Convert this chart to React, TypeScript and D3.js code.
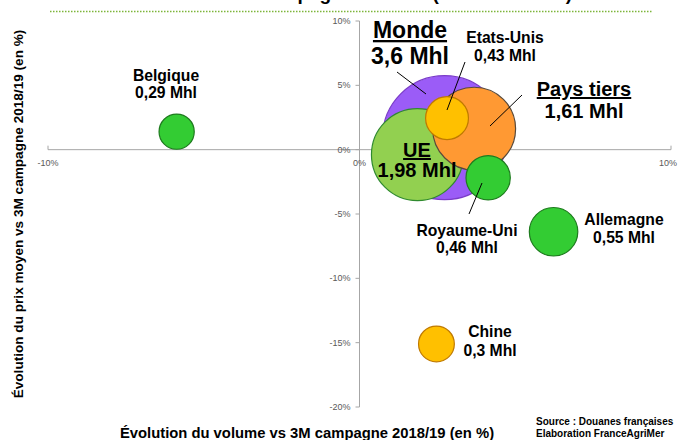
import React from "react";
import * as d3 from "d3";

// ---- Data ----
const markets = ["Monde", "UE", "Pays tiers", "Etats-Unis", "Royaume-Uni", "Allemagne", "Belgique", "Chine"];
const volumeLabels = ["3,6 Mhl", "1,98 Mhl", "1,61 Mhl", "0,43 Mhl", "0,46 Mhl", "0,55 Mhl", "0,29 Mhl", "0,3 Mhl"];
const volumes = [3.6, 1.98, 1.61, 0.43, 0.46, 0.55, 0.29, 0.3]; // Mhl
const volumeChange = [2.73, 1.86, 3.68, 2.81, 4.13, 6.23, -5.87, 2.47]; // %
const priceChange = [0.93, -0.39, 1.63, 2.45, -2.18, -6.38, 1.4, -15.1]; // %
const xTicks = [-10, 0, 10];
const yTicks = [10, 5, 0, -5, -10, -15, -20];

// ---- Styles / layout ----
const W = 679, H = 440;
const fills = ["#9B5CF7", "#92D050", "#FF9933", "#FFC000", "#33CC33", "#33CC33", "#33CC33", "#FFC000"];
const strokes = ["#7A3CC8", "#2F8A2F", "#5A4A3A", "#C07A00", "#1E7B1E", "#1E7B1E", "#1E7B1E", "#C07A00"];
// label layout: [cx, baseline1, baseline2, fontSize, underline, leader line (x1,y1,x2,y2) or null]
const labelLayout: [number, number, number, number, boolean, number[] | null][] = [
  [410, 38, 64, 23, true, [397, 72, 426, 94]],
  [417, 157, 177, 20, true, null],
  [584, 96, 118, 20, true, [522, 95, 490, 126]],
  [505, 43, 61, 15.7, false, [465, 62, 447, 110]],
  [467, 236, 253, 15.7, false, [482, 183, 469, 214]],
  [624, 225, 243, 15.7, false, null],
  [166, 81, 98, 15.7, false, null],
  [490, 337, 356, 15.7, false, null],
];

export default function App() {
  const x = d3.scaleLinear().domain([-10, 10]).range([48, 671]);
  const y = d3.scaleLinear().domain([-20, 10]).range([407, 21]);
  const r = d3.scaleSqrt().domain([0, 3.6]).range([0, 62]);
  const font = "'Liberation Sans', Arial, sans-serif";
  const axisColor = "#A6A6A6";
  const tickColor = "#595959";

  return (
    <svg width={W} height={H} style={{ position: "absolute", left: 0, top: 0, background: "#fff" }} fontFamily={font}>
      {/* cut-off title (second line of a title above the frame) */}
      <text x={572} y={0} textAnchor="end" fontSize={19} fontWeight="bold" fill="#000">
        3M campagne 2019/20 (vs 3M 2018/19)
      </text>
      <line x1={50} x2={652} y1={11.5} y2={11.5} stroke="#7DB53A" strokeWidth={1.5} strokeDasharray="1.5,1.5" />

      {/* axes */}
      <line x1={x(-10)} x2={x(10)} y1={y(0)} y2={y(0)} stroke={axisColor} strokeWidth={1} />
      <line x1={x(0)} x2={x(0)} y1={y(10)} y2={y(-20)} stroke={axisColor} strokeWidth={1} />
      {xTicks.map((t) => (
        <g key={"xt" + t}>
          <line x1={x(t)} x2={x(t)} y1={y(0)} y2={y(0) - 4} stroke={axisColor} />
          <text x={x(t) + (t === 10 ? -3 : 0)} y={y(0) + 16} textAnchor="middle" fontSize={9} fill={tickColor}>
            {t + "%"}
          </text>
        </g>
      ))}
      {yTicks.map((t) => (
        <g key={"yt" + t}>
          <line x1={x(0) - 4} x2={x(0)} y1={y(t)} y2={y(t)} stroke={axisColor} />
          <text x={x(0) - 9} y={y(t) + 3} textAnchor="end" fontSize={9} fill={tickColor}>
            {t + "%"}
          </text>
        </g>
      ))}

      {/* bubbles */}
      {markets.map((m, i) => (
        <circle
          key={m}
          cx={x(volumeChange[i])}
          cy={y(priceChange[i])}
          r={r(volumes[i])}
          fill={fills[i]}
          stroke={strokes[i]}
          strokeWidth={1.2}
        />
      ))}

      {/* leader lines */}
      {labelLayout.map((l, i) =>
        l[5] ? (
          <line key={"ll" + i} x1={l[5][0]} y1={l[5][1]} x2={l[5][2]} y2={l[5][3]} stroke="#000" strokeWidth={1} />
        ) : null
      )}

      {/* labels */}
      {markets.map((m, i) => {
        const [cx, b1, b2, fs, ul] = labelLayout[i];
        return (
          <g key={"lb" + m} fontWeight="bold" fontSize={fs} fill="#000" textAnchor="middle">
            <text x={cx} y={b1} textDecoration={ul ? "underline" : undefined}>{m}</text>
            <text x={cx} y={b2}>{volumeLabels[i]}</text>
          </g>
        );
      })}

      {/* axis titles */}
      <text
        transform="translate(23,214) rotate(-90)"
        textAnchor="middle"
        fontSize={13.6}
        fontWeight="bold"
        fill="#000"
      >
        Évolution du prix moyen vs 3M campagne 2018/19 (en %)
      </text>
      <text x={307} y={438} textAnchor="middle" fontSize={14.8} fontWeight="bold" fill="#000">
        Évolution du volume vs 3M campagne 2018/19 (en %)
      </text>
      <text x={536} y={425} fontSize={10} fontWeight="bold" fill="#000">Source : Douanes françaises</text>
      <text x={536} y={437} fontSize={10} fontWeight="bold" fill="#000">Elaboration FranceAgriMer</text>
    </svg>
  );
}
